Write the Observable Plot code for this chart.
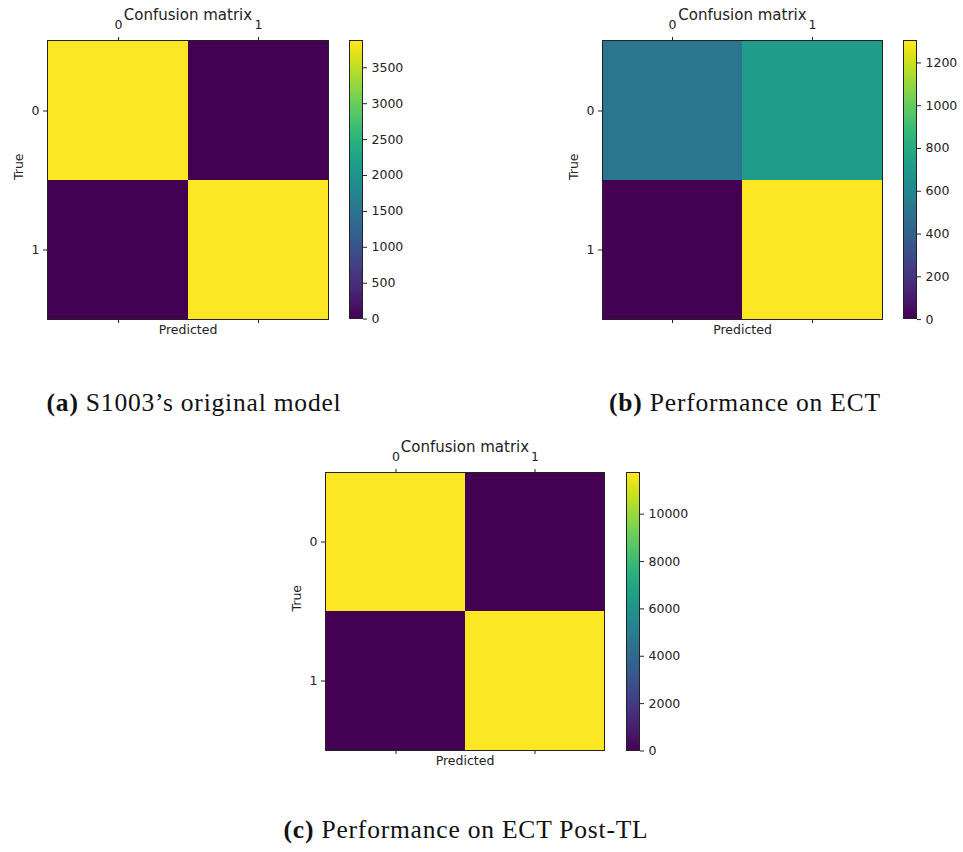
<!DOCTYPE html>
<html>
<head>
<meta charset="utf-8">
<script src="https://cdn.jsdelivr.net/npm/d3@7"></script>
<script src="https://cdn.jsdelivr.net/npm/@observablehq/plot@0.6"></script>
<style>
  html, body { margin: 0; padding: 0; background: #fff; }
  #page { position: relative; width: 963px; height: 852px; background: #fff; overflow: hidden; }
  .panel { position: absolute; }
  .panel svg { max-width: none !important; display: block; }
  .caption { position: absolute; transform: translate(-50%, -50%); white-space: nowrap;
    font-family: "Liberation Serif", "DejaVu Serif", serif; font-size: 25.5px; line-height: 1;
    letter-spacing: 0.8px; color: #111; }
  .caption b { font-weight: bold; }
</style>
</head>
<body>
<div id="page"></div>
<script>
// ---- data ----
const classLabels = ["0", "1"];
const matrixA = [[3880, 8], [12, 3865]];
const matrixB = [[515, 720], [5, 1305]];
const matrixC = [[11760, 20], [30, 11700]];
const ticksA = [0, 500, 1000, 1500, 2000, 2500, 3000, 3500];
const ticksB = [0, 200, 400, 600, 800, 1000, 1200];
const ticksC = [0, 2000, 4000, 6000, 8000, 10000];
const plotTitle = "Confusion matrix";
const xLabel = "Predicted";
const yLabel = "True";
const captionLabels = ["(a)", "(b)", "(c)"];
const captionTexts = ["S1003\u2019s original model", "Performance on ECT", "Performance on ECT Post-TL"];

const page = document.getElementById("page");
const FONT = "DejaVu Sans";
const ML = 60, MT = 50, MR = 10, MB = 25;
const CL = 2, CR = 50, CT = 8, CB = 8;

function heatmap(matrix, fw, fh) {
  const data = [];
  matrix.forEach((row, i) => row.forEach((v, j) => data.push({t: classLabels[i], p: classLabels[j], v})));
  const vals = matrix.flat();
  const dom = [d3.min(vals), d3.max(vals)];
  return Plot.plot({
    width: ML + fw + MR, height: MT + fh + MB,
    marginLeft: ML, marginTop: MT, marginRight: MR, marginBottom: MB,
    style: {fontFamily: FONT, fontSize: "12.5px", color: "#222", background: "transparent"},
    x: {type: "band", domain: classLabels, padding: 0},
    y: {type: "band", domain: classLabels, padding: 0},
    color: {type: "linear", scheme: "viridis", domain: dom},
    marks: [
      Plot.cell(data, {x: "p", y: "t", fill: "v", inset: 0, shapeRendering: "crispEdges"}),
      Plot.frame({stroke: "#222", strokeWidth: 1}),
      Plot.axisX({anchor: "top", tickSize: 4, tickPadding: 8, label: null}),
      Plot.axisX({anchor: "bottom", tickSize: 4, tickFormat: () => "", label: null}),
      Plot.axisY({anchor: "left", tickSize: 4, tickPadding: 4, label: null}),
      Plot.text([plotTitle], {text: d => d, frameAnchor: "top", dy: -31, fontSize: 15}),
      Plot.text([xLabel], {text: d => d, frameAnchor: "bottom", dy: 14}),
      Plot.text([yLabel], {text: d => d, frameAnchor: "left", dx: -29, rotate: -90})
    ]
  });
}

function colorbar(matrix, ticks, fh) {
  const vals = matrix.flat();
  const dom = [d3.min(vals), d3.max(vals)];
  return Plot.plot({
    width: CL + 13 + CR, height: CT + fh + CB,
    marginLeft: CL, marginRight: CR, marginTop: CT, marginBottom: CB,
    style: {fontFamily: FONT, fontSize: "12.5px", color: "#222", background: "transparent"},
    x: {domain: [0, 1], axis: null},
    y: {domain: dom},
    color: {type: "linear", scheme: "viridis", domain: dom},
    marks: [
      Plot.raster({fill: (x, y) => y, x1: 0, x2: 1, y1: dom[0], y2: dom[1]}),
      Plot.frame({stroke: "#222", strokeWidth: 1}),
      Plot.axisY({anchor: "right", ticks, tickSize: 4, tickPadding: 5, tickFormat: d => String(d), label: null})
    ]
  });
}

function place(el, left, top) {
  const w = document.createElement("div");
  w.className = "panel";
  w.style.left = left + "px";
  w.style.top = top + "px";
  w.appendChild(el);
  page.appendChild(w);
}

const panels = [
  {m: matrixA, t: ticksA, fx: 47, fy: 40, fw: 281, fh: 279, cx: 349, cy: 40, ch: 278, capX: 194, capY: 403},
  {m: matrixB, t: ticksB, fx: 602, fy: 40, fw: 280, fh: 279, cx: 903, cy: 40, ch: 278, capX: 745, capY: 403},
  {m: matrixC, t: ticksC, fx: 325, fy: 472, fw: 279, fh: 278, cx: 626, cy: 472, ch: 278, capX: 466, capY: 830}
];

panels.forEach((p, i) => {
  place(heatmap(p.m, p.fw, p.fh), p.fx - ML, p.fy - MT);
  place(colorbar(p.m, p.t, p.ch), p.cx - CL, p.cy - CT);
  const cap = document.createElement("div");
  cap.className = "caption";
  cap.style.left = p.capX + "px";
  cap.style.top = p.capY + "px";
  cap.innerHTML = "<b>" + captionLabels[i] + "</b> " + captionTexts[i];
  page.appendChild(cap);
});
</script>
</body>
</html>
